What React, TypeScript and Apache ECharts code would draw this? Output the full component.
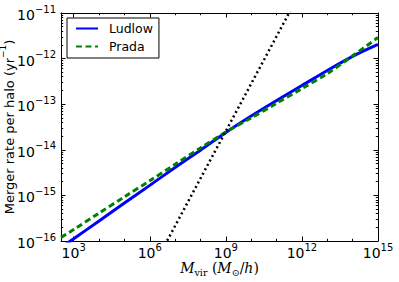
import React, { useEffect, useRef } from "react";
import * as echarts from "echarts";

// Halo mass M_vir (M_sun/h)
const massLudlow = [3.16e2, 1e3, 1e4, 1e5, 1e6, 1e7, 1e8, 1e9, 1e10, 1e11, 1e12, 1e13, 1e14, 1e15];
const rateLudlow = [7.2e-17, 1.12e-16, 2.75e-16, 6.8e-16, 1.66e-15, 4.1e-15, 9.8e-15, 2.4e-14, 5.5e-14, 1.2e-13, 2.57e-13, 5.5e-13, 1.12e-12, 2.04e-12];
const massPrada = [3.16e2, 1e3, 1e4, 1e5, 1e6, 1e7, 1e8, 1e9, 1e10, 1e11, 1e12, 1e13, 1e14, 1e15];
const ratePrada = [1.2e-16, 1.78e-16, 4.1e-16, 9.3e-16, 2.1e-15, 4.8e-15, 1.1e-14, 2.45e-14, 5.0e-14, 1.05e-13, 2.2e-13, 4.7e-13, 1.15e-12, 2.9e-12];
const massSteep = [3.16e6, 4e11];
const rateSteep = [6.5e-17, 1.3e-11];

const xMajorExp = [3, 6, 9, 12, 15];
const xMinorExp = [4, 5, 7, 8, 10, 11, 13, 14];
const yMajorExp = [-16, -15, -14, -13, -12, -11];

const toLog = (xs: number[], ys: number[]) => xs.map((x, i) => [Math.log10(x), Math.log10(ys[i])]);

const yMinorVals: number[] = [];
for (let n = -16; n < -11; n++) {
  for (let k = 2; k <= 9; k++) yMinorVals.push(n + Math.log10(k));
}

const FONT = "DejaVu Sans";
const supRich = {
  b: { fontSize: 14, fontFamily: FONT, color: "#000", lineHeight: 18, verticalAlign: "bottom" },
  s: { fontSize: 10, fontFamily: FONT, color: "#000", lineHeight: 9, verticalAlign: "top" },
};

export default function App() {
  const ref = useRef<HTMLDivElement>(null);
  useEffect(() => {
    if (!ref.current) return;
    const chart = echarts.init(ref.current, undefined, { renderer: "svg" });
    const axisLine = { show: true, lineStyle: { color: "#000", width: 1 } };
    const xBase = { type: "value", min: 2.5, max: 15, interval: 0.5, splitLine: { show: false } };
    const yBase = { type: "value", min: -16, max: -11, interval: 1, splitLine: { show: false } };
    const majTick = (vals: number[]) => ({ show: true, inside: true, length: 4.5, customValues: vals, lineStyle: { color: "#000", width: 1 } });
    const minTick = (vals: number[]) => ({ show: true, inside: true, length: 2.2, customValues: vals, lineStyle: { color: "#000", width: 1 } });
    chart.setOption({
      animation: false,
      backgroundColor: "#fff",
      grid: { left: 61, right: 21, top: 13, bottom: 41, containLabel: false, outerBoundsMode: "none" },
      legend: {
        orient: "vertical",
        left: 67,
        top: 18,
        padding: [4, 6, 5, 8],
        itemGap: 5,
        itemWidth: 22,
        itemHeight: 14,
        borderColor: "#000",
        borderWidth: 1,
        borderRadius: 0,
        backgroundColor: "#fff",
        data: ["Ludlow", "Prada"],
        formatter: (name: string) => `{p| }{t|${name}}`,
        itemStyle: { color: "rgba(0,0,0,0)", borderColor: "rgba(0,0,0,0)", borderWidth: 0 },
        textStyle: {
          fontFamily: FONT,
          fontSize: 12.5,
          color: "#000",
          rich: {
            p: { width: 6, fontSize: 12.5 },
            t: { fontFamily: FONT, fontSize: 12.5, color: "#000" },
          },
        },
      },
      xAxis: [
        {
          ...xBase,
          position: "bottom",
          axisLine,
          axisTick: majTick(xMajorExp),
          axisLabel: {
            show: true,
            margin: 1,
            customValues: xMajorExp,
            formatter: (v: number) => `{b|10}{s|${Math.round(v)}}`,
            rich: supRich,
          },
          name: "{i|M}{sub|vir}{t| (}{i|M}{sub|⊙}{t|/}{i|h}{t|)}",
          nameLocation: "middle",
          nameGap: 20,
          nameMoveOverlap: false,
          nameTextStyle: {
            rich: {
              i: { fontFamily: "DejaVu Serif", fontStyle: "italic", fontSize: 14, color: "#000", lineHeight: 16, verticalAlign: "top" },
              t: { fontFamily: "DejaVu Serif", fontSize: 14, color: "#000", lineHeight: 16, verticalAlign: "top" },
              sub: { fontFamily: "DejaVu Serif", fontSize: 9.5, color: "#000", lineHeight: 8, verticalAlign: "bottom" },
            },
          },
        },
        { ...xBase, position: "bottom", axisLine: { show: false }, axisTick: minTick(xMinorExp), axisLabel: { show: false } },
        { ...xBase, position: "top", axisLine, axisTick: majTick(xMajorExp), axisLabel: { show: false } },
        { ...xBase, position: "top", axisLine: { show: false }, axisTick: minTick(xMinorExp), axisLabel: { show: false } },
      ],
      yAxis: [
        {
          ...yBase,
          position: "left",
          axisLine,
          axisTick: majTick(yMajorExp),
          axisLabel: {
            show: true,
            margin: 5,
            customValues: yMajorExp,
            formatter: (v: number) => `{b|10}{s|−${Math.abs(Math.round(v))}}`,
            rich: supRich,
          },
          name: "{t|Merger rate per halo (yr}{s|−1}{t|)}",
          nameLocation: "middle",
          nameRotate: 90,
          nameGap: 45,
          nameMoveOverlap: false,
          nameTextStyle: {
            rich: {
              t: { fontFamily: FONT, fontSize: 13, color: "#000", lineHeight: 18, verticalAlign: "bottom" },
              s: { fontFamily: FONT, fontSize: 9, color: "#000", lineHeight: 10, verticalAlign: "top" },
            },
          },
        },
        { ...yBase, position: "left", axisLine: { show: false }, axisTick: minTick(yMinorVals), axisLabel: { show: false } },
        { ...yBase, position: "right", axisLine, axisTick: majTick(yMajorExp), axisLabel: { show: false } },
        { ...yBase, position: "right", axisLine: { show: false }, axisTick: minTick(yMinorVals), axisLabel: { show: false } },
      ],
      series: [
        {
          name: "Ludlow",
          type: "line",
          xAxisIndex: 0,
          yAxisIndex: 0,
          data: toLog(massLudlow, rateLudlow),
          showSymbol: false,
          symbol: "none",
          smooth: 0.3,
          lineStyle: { color: "#0000ff", width: 3 },
          itemStyle: { color: "#0000ff" },
        },
        {
          name: "Prada",
          type: "line",
          xAxisIndex: 0,
          yAxisIndex: 0,
          data: toLog(massPrada, ratePrada),
          showSymbol: false,
          symbol: "none",
          smooth: 0.3,
          lineStyle: { color: "#008000", width: 3, type: [6, 3.5], cap: "butt" },
          itemStyle: { color: "#008000" },
        },
        {
          name: "steep",
          type: "line",
          xAxisIndex: 0,
          yAxisIndex: 0,
          data: toLog(massSteep, rateSteep),
          showSymbol: false,
          symbol: "none",
          lineStyle: { color: "#000", width: 2.5, type: [2, 3], cap: "butt" },
          itemStyle: { color: "#000" },
        },
      ],
    });
    return () => chart.dispose();
  }, []);
  return <div ref={ref} style={{ position: "fixed", left: 0, top: 0, width: 399, height: 282 }} />;
}
